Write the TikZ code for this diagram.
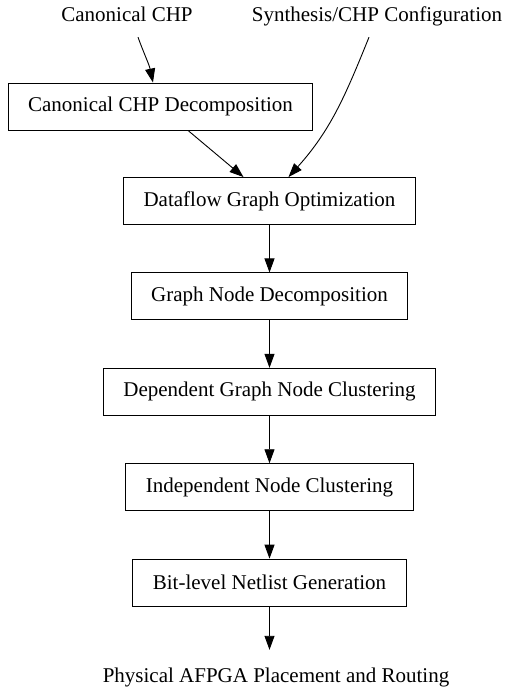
\documentclass[tikz,border=0pt]{standalone}
\usepackage{fontspec}
\setmainfont[Ligatures=NoCommon]{Liberation Serif}
\usetikzlibrary{calc, positioning}
\usetikzlibrary{arrows.meta}

\begin{document}
\begin{tikzpicture}[x=1pt,y=-1pt,
    font=\fontsize{21}{25}\selectfont,
    stage/.style={draw,line width=0.9pt,inner xsep=20pt,minimum height=47pt},
    ext/.style={inner sep=0pt,text height=15pt,text depth=15pt},
    flow/.style={line width=0.9pt,-{Triangle[length=14pt,width=10pt]}},
    node distance=47.5pt]
\useasboundingbox (0,0) rectangle (506,693);

\node[ext] (chp) at (127,22) {Canonical CHP};
\node[ext] (cfg) at (377,22) {Synthesis/CHP Configuration};

\node[stage] (dec) at (160.5,106.5) {Canonical CHP Decomposition};
\node[stage] (dfg) at (269.5,201) {Dataflow Graph Optimization};
\node[stage,below=of dfg] (gnd) {Graph Node Decomposition};
\node[stage,below=of gnd] (dep) {Dependent Graph Node Clustering};
\node[stage,below=of dep] (ind) {Independent Node Clustering};
\node[stage,below=of ind] (bit) {Bit-level Netlist Generation};

\node[ext,text height=32pt] (par) at (276,673.5) {Physical AFPGA Placement and Routing};

% inputs
\draw[flow] ([xshift=11pt]chp.south) to[out=-70,in=102] ([xshift=-7.5pt]dec.north);
\draw[flow] ([xshift=27.5pt]dec.south) -- ([xshift=-26pt]dfg.north);
\draw[flow] ([xshift=-8pt]cfg.south) to[out=-112,in=48] ([xshift=19pt]dfg.north);

% main chain
\draw[flow] (dfg) -- (gnd);
\draw[flow] (gnd) -- (dep);
\draw[flow] (dep) -- (ind);
\draw[flow] (ind) -- (bit);
\draw[flow] (bit) -- (bit |- par.north);
\end{tikzpicture}
\end{document}
